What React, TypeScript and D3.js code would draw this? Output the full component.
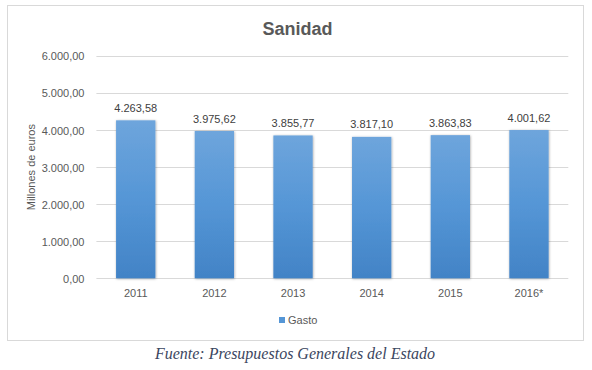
import { useEffect, useRef } from 'react';
import * as d3 from 'd3';

const years = ['2011', '2012', '2013', '2014', '2015', '2016*'];
const gasto = [4263.58, 3975.62, 3855.77, 3817.1, 3863.83, 4001.62];
const yTicks = [0, 1000, 2000, 3000, 4000, 5000, 6000];

const W = 592;
const H = 370;
const font = '"Liberation Sans", Arial, sans-serif';

// 6.000,00 style numbers
const fmt = (v: number) => {
  const [int, dec] = v.toFixed(2).split('.');
  return int.replace(/\B(?=(\d{3})+(?!\d))/g, '.') + ',' + dec;
};

const App = () => {
  const svgRef = useRef<SVGSVGElement>(null);

  useEffect(() => {
    const svg = d3.select(svgRef.current);
    svg.selectAll('*').remove();

    const left = 96.4;
    const right = 568.3;
    const top = 56;
    const bottom = 278.3;

    const x = d3.scaleBand().domain(years).range([left, right]).paddingInner(0.5).paddingOuter(0.25);
    const y = d3.scaleLinear().domain([0, 6000]).range([bottom, top]);

    const defs = svg.append('defs');
    const grad = defs.append('linearGradient')
      .attr('id', 'barGrad')
      .attr('x1', 0).attr('y1', 0).attr('x2', 0).attr('y2', 1);
    grad.append('stop').attr('offset', '0%').attr('stop-color', '#6ea5dc');
    grad.append('stop').attr('offset', '50%').attr('stop-color', '#5596d6');
    grad.append('stop').attr('offset', '100%').attr('stop-color', '#4283c6');

    const filter = defs.append('filter').attr('id', 'shadow')
      .attr('x', '-30%').attr('y', '-10%').attr('width', '160%').attr('height', '120%');
    filter.append('feDropShadow')
      .attr('dx', 0.5).attr('dy', 0.5).attr('stdDeviation', 1.3)
      .attr('flood-color', '#000').attr('flood-opacity', 0.35);

    // chart frame
    svg.append('rect')
      .attr('x', 7.5).attr('y', 5.5)
      .attr('width', 576).attr('height', 335)
      .attr('fill', '#fff')
      .attr('stroke', '#d9d9d9');

    svg.append('text')
      .attr('x', 297.5).attr('y', 35)
      .attr('text-anchor', 'middle')
      .attr('font-family', font)
      .attr('font-size', 18)
      .attr('font-weight', 'bold')
      .attr('fill', '#595959')
      .text('Sanidad');

    // grid + y labels
    const gy = svg.append('g');
    gy.selectAll('line').data(yTicks).join('line')
      .attr('x1', left).attr('x2', right)
      .attr('y1', d => Math.round(y(d)) + 0.5).attr('y2', d => Math.round(y(d)) + 0.5)
      .attr('stroke', '#d9d9d9');
    gy.selectAll('text').data(yTicks).join('text')
      .attr('x', 84.5).attr('y', d => y(d))
      .attr('dy', '0.4em')
      .attr('text-anchor', 'end')
      .attr('font-family', font)
      .attr('font-size', 11)
      .attr('fill', '#595959')
      .text(d => fmt(d));

    svg.append('text')
      .attr('transform', `translate(35,${(top + bottom) / 2}) rotate(-90)`)
      .attr('text-anchor', 'middle')
      .attr('font-family', font)
      .attr('font-size', 11)
      .attr('fill', '#595959')
      .text('Millones de euros');

    // bars
    svg.append('g').selectAll('rect').data(gasto).join('rect')
      .attr('x', (d, i) => x(years[i])!)
      .attr('width', x.bandwidth())
      .attr('y', d => y(d))
      .attr('height', d => y(0) - y(d))
      .attr('fill', 'url(#barGrad)')
      .attr('filter', 'url(#shadow)');

    svg.append('g').selectAll('text').data(gasto).join('text')
      .attr('x', (d, i) => x(years[i])! + x.bandwidth() / 2)
      .attr('y', d => y(d) - 8.5)
      .attr('text-anchor', 'middle')
      .attr('font-family', font)
      .attr('font-size', 11)
      .attr('fill', '#404040')
      .text(d => fmt(d));

    svg.append('g').selectAll('text').data(years).join('text')
      .attr('x', d => x(d)! + x.bandwidth() / 2)
      .attr('y', 297)
      .attr('text-anchor', 'middle')
      .attr('font-family', font)
      .attr('font-size', 11)
      .attr('fill', '#595959')
      .text(d => d);

    // legend
    svg.append('rect')
      .attr('x', 279).attr('y', 317)
      .attr('width', 6).attr('height', 6)
      .attr('fill', '#5596d6');
    svg.append('text')
      .attr('x', 288).attr('y', 324)
      .attr('font-family', font)
      .attr('font-size', 11)
      .attr('fill', '#595959')
      .text('Gasto');

    svg.append('text')
      .attr('x', 295).attr('y', 359)
      .attr('text-anchor', 'middle')
      .attr('font-family', '"Liberation Serif", "DejaVu Serif", serif')
      .attr('font-style', 'italic')
      .attr('font-size', 16)
      .attr('fill', '#3b4660')
      .text('Fuente: Presupuestos Generales del Estado');
  }, []);

  return (
    <svg
      ref={svgRef}
      width={W}
      height={H}
      style={{ position: 'absolute', left: 0, top: 0, display: 'block', background: '#fff' }}
    />
  );
};

export default App;
